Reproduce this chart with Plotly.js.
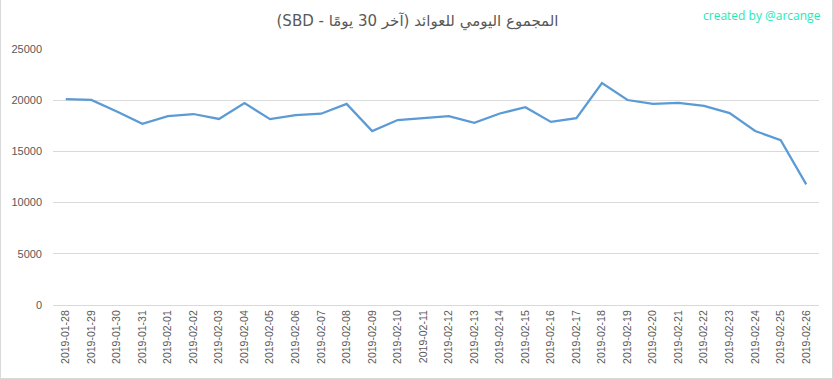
<!DOCTYPE html>
<html>
<head>
<meta charset="utf-8">
<script src="https://cdn.plot.ly/plotly-3.0.1.min.js"></script>
<style>
html,body{margin:0;padding:0;background:#fff;}
#chart{width:833px;height:379px;box-sizing:border-box;border-right:1px solid #d9d9d9;border-bottom:1px solid #d9d9d9;border-left:1px solid #d9d9d9;}
</style>
</head>
<body>
<div id="chart"></div>
<script>
const dates = ["2019-01-28","2019-01-29","2019-01-30","2019-01-31","2019-02-01","2019-02-02","2019-02-03","2019-02-04","2019-02-05","2019-02-06","2019-02-07","2019-02-08","2019-02-09","2019-02-10","2019-02-11","2019-02-12","2019-02-13","2019-02-14","2019-02-15","2019-02-16","2019-02-17","2019-02-18","2019-02-19","2019-02-20","2019-02-21","2019-02-22","2019-02-23","2019-02-24","2019-02-25","2019-02-26"];
const revenue = [20100,20030,18900,17700,18450,18650,18170,19720,18150,18540,18680,19640,16980,18060,18260,18450,17780,18700,19320,17880,18250,21680,20020,19640,19740,19440,18740,16990,16100,11780];
const yTicks = [0,5000,10000,15000,20000,25000];
const titleText = "المجموع اليومي للعوائد (آخر 30 يومًا - SBD)";
const watermark = "created by @arcange";

const trace = {
  x: dates, y: revenue, type: "scatter", mode: "lines",
  line: {color: "#5b9bd5", width: 2.25},
  hoverinfo: "skip"
};
const layout = {
  width: 833, height: 379,
  margin: {l: 52, r: 15, t: 49, b: 74},
  paper_bgcolor: "rgba(0,0,0,0)", plot_bgcolor: "#fff",
  showlegend: false,
  font: {family: "Open Sans, DejaVu Sans, sans-serif", color: "#595959", size: 11},
  title: {
    text: "\u202B" + titleText + "\u202C",
    font: {family: "DejaVu Sans, sans-serif", size: 15, color: "#595959"},
    x: 0.5, xanchor: "center", xref: "container",
    y: 1 - 21/379, yanchor: "middle", yref: "container"
  },
  xaxis: {
    type: "category", range: [-0.5, dates.length - 0.5],
    tickangle: -90, showgrid: false, zeroline: false,
    showline: true, linecolor: "#d9d9d9", linewidth: 1,
    ticks: "", tickfont: {family: "Liberation Sans, sans-serif", size: 10.5, color: "#595959"},
    fixedrange: true
  },
  yaxis: {
    range: [0, 25000], tickvals: yTicks, ticktext: yTicks.map(String),
    showgrid: true, gridcolor: "#d9d9d9", gridwidth: 1,
    zeroline: false, showline: false, ticks: "",
    ticklabelstandoff: 10,
    tickfont: {family: "Liberation Sans, sans-serif", size: 11, color: "#595959"},
    fixedrange: true
  },
  annotations: [{
    text: watermark, xref: "paper", yref: "paper",
    x: 1.005, xanchor: "right", y: (305-15)/256, yanchor: "middle",
    showarrow: false,
    font: {family: "Open Sans, sans-serif", size: 12, color: "#1de9b6"}
  }]
};
Plotly.newPlot("chart", [trace], layout, {displayModeBar: false, staticPlot: true});
</script>
</body>
</html>
